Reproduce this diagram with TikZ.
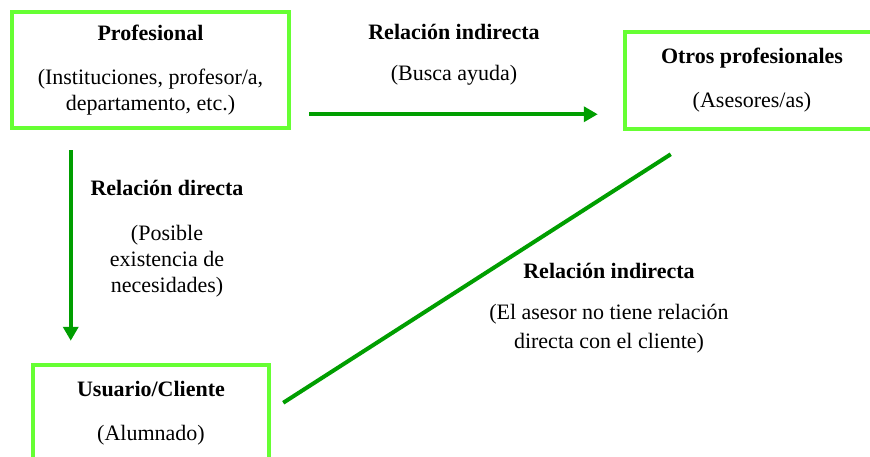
\documentclass[tikz,border=0pt]{standalone}
\usepackage{fontspec}
\setmainfont{Liberation Serif}
\usetikzlibrary{arrows.meta}
\definecolor{boxgreen}{RGB}{102,255,51}
\definecolor{linkgreen}{RGB}{0,158,0}

\begin{document}
\begin{tikzpicture}[
  x=1pt, y=-1pt,
  every node/.style={font=\fontsize{22}{26}\selectfont, align=center, inner sep=0pt},
  actor/.style={draw=boxgreen, line width=4.5pt},
  link/.style={draw=linkgreen, line width=4pt},
  arrow/.style={link, -{Triangle[length=14pt,width=15pt]}}
]
\useasboundingbox (0,0) rectangle (870,456);
\clip (0,0) rectangle (870,456);

\node[actor, minimum width=277pt, minimum height=116pt] (prof) at (150.5,70)
  {\textbf{Profesional}\\[18pt](Instituciones, profesor/a,\\departamento, etc.)};
\node[actor, minimum width=254pt, minimum height=97pt] (otros) at (752,80.5)
  {\textbf{Otros profesionales}\\[18pt](Asesores/as)};
\node[actor, minimum width=236pt, minimum height=97pt] (user) at (151,413.5)
  {\textbf{Usuario/Cliente}\\[18pt](Alumnado)};

\node (ayuda) at (454,54.5) {\textbf{Relación indirecta}\\[15pt](Busca ayuda)};
\node (necesidad) at (167,238.5)
  {\textbf{Relación directa}\\[19pt](Posible\\existencia de\\necesidades)};
\node (asesor) at (609,308)
  {\textbf{Relación indirecta}\\[15pt](El asesor no tiene relación\\[3pt]directa con el cliente)};

\draw[arrow] ([xshift=61pt,yshift=-20pt]prof.south west) -- ([xshift=40pt,yshift=22pt]user.north west);
\draw[arrow] ([xshift=18pt,yshift=16pt]prof.south east) -- ([xshift=-25pt,yshift=17pt]otros.south west);
\draw[link] ([xshift=12pt,yshift=-40pt]user.north east) -- ([xshift=48pt,yshift=-23pt]otros.south west);
\end{tikzpicture}
\end{document}
